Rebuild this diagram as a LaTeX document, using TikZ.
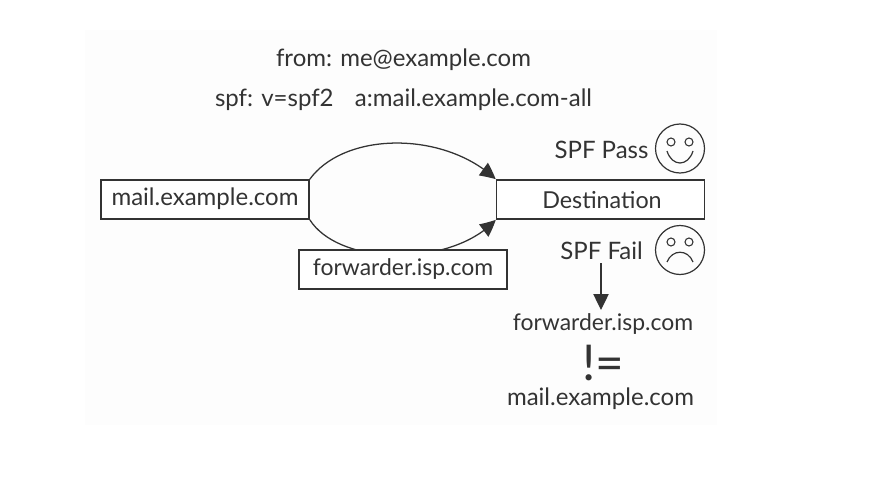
\documentclass[tikz,border=0pt]{standalone}
\usepackage{fontspec}
\setmainfont{Lato}
\usetikzlibrary{arrows.meta,bending}
\definecolor{ink}{HTML}{333333}
\tikzset{
  x=0.75pt,y=-0.75pt,
  boxn/.style={draw=ink,line width=1.2pt,fill=white,minimum width=156pt,minimum height=29.25pt,inner sep=0pt,text=ink},
  lab/.style={inner sep=0pt,text=ink,font=\fontsize{18}{20}\selectfont},
  labs/.style={inner sep=0pt,text=ink,font=\fontsize{17.2}{20}\selectfont},
  conn/.style={draw=ink,line width=0.95pt},
  tip/.style={-{Triangle[length=12pt,width=11.5pt]}},
  tipb/.style={-{Triangle[length=12pt,width=11.5pt,bend]}},
  face/.style={circle,draw=ink,line width=0.9pt,minimum size=36.75pt,inner sep=0pt},
  eye/.style={draw=ink,line width=0.8pt}
}
\begin{document}
\begin{tikzpicture}
\useasboundingbox (0,0) rectangle (874,478);
\fill[white] (0,0) rectangle (874,478);
\fill[black!0.7] (85,30) rectangle (717,425);
\node[boxn] (mail) at (205,199.5) {};
\node[lab] (maillab) at (205,198.5) {mail.example.com};
\node[boxn] (dest) at (600.5,199.5) {};
\node[lab,font=\fontsize{17.5}{20}\selectfont] (destlab) at (602,200) {Destination};
\draw[conn,tipb] (mail.north east) .. controls (345,131) and (445,131) .. (dest.north west);
\draw[conn,tipb] (mail.south east) .. controls (340,267) and (453,267) .. (dest.south west);
\node[boxn] (fwd) at (403,269.5) {};
\node[labs] (fwdlab) at (403,269) {forwarder.isp.com};
\node[lab] (from) at (403.5,59.5) {from: me@example.com};
\node[lab] (spf) at (403.5,99.5) {spf: v=spf2\hspace{16pt}a:mail.example.com-all};
\node[lab] (pass) at (601.5,149.5) {SPF Pass};
\node[lab] (fail) at (601.5,250.5) {SPF Fail};
\node[labs] (fwd2) at (603,324) {forwarder.isp.com};
\node[inner sep=0pt,text=ink,font=\fontsize{37}{40}\selectfont] (ne) at (603,363) {!=};
\node[lab] (mail2) at (600.5,399) {mail.example.com};
\coordinate (failb) at (601,263);
\coordinate (fwdb) at (601,310);
\draw[conn,tip] (failb) -- (fwdb);
\node[face] (happy) at (680,148.5) {};
\draw[eye] (671,142) circle (4);\draw[eye] (689,142) circle (4);
\draw[eye,line width=0.9pt] (667,151) .. controls (672,167) and (688,167) .. (693,151);
\node[face] (sad) at (680,250) {};
\draw[eye] (671,242) circle (4);\draw[eye] (689,242) circle (4);
\draw[eye,line width=0.9pt] (667,262) .. controls (672,249) and (688,249) .. (693,262);
\end{tikzpicture}
\end{document}
